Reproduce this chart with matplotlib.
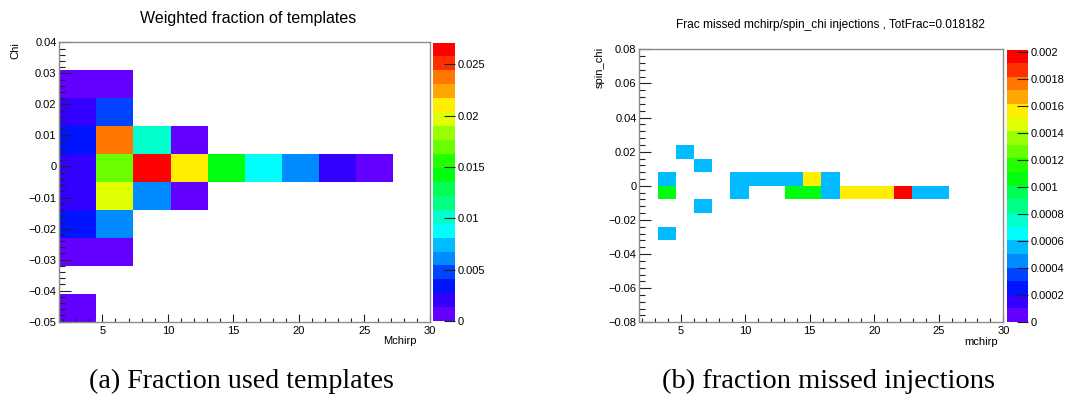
import colorsys
import numpy as np
import matplotlib
matplotlib.use("Agg")
import matplotlib.pyplot as plt
from matplotlib.colors import ListedColormap, BoundaryNorm
from matplotlib.ticker import MultipleLocator, FuncFormatter

plt.rcParams['font.family'] = ['Liberation Sans', 'DejaVu Sans']

# ---------------- data ----------------
# (a) weighted fraction of templates, one entry per filled (Mchirp, Chi) bin
tmpl_mchirp = [3, 3, 3, 3, 3, 3, 3, 3,
               6, 6, 6, 6, 6, 6, 6,
               9, 9, 9,
               12, 12, 12,
               14.5, 17, 20, 23, 26]
tmpl_chi = [0.0265, 0.0175, 0.0085, 0.0, -0.0095, -0.0185, -0.0275, -0.0455,
            0.0265, 0.0175, 0.0085, 0.0, -0.0095, -0.0185, -0.0275,
            0.0085, 0.0, -0.0095,
            0.0085, 0.0, -0.0095,
            0.0, 0.0, 0.0, 0.0, 0.0]
tmpl_frac = [0.0007, 0.0020, 0.0034, 0.0020, 0.0020, 0.0034, 0.0007, 0.0007,
             0.0007, 0.0047, 0.0237, 0.0169, 0.0197, 0.0061, 0.0007,
             0.0102, 0.0271, 0.0061,
             0.0007, 0.0210, 0.0007,
             0.0142, 0.0088, 0.0061, 0.0020, 0.0007]

# (b) fraction of missed injections per (mchirp, spin_chi) bin
miss_mchirp = [4.0, 4.0, 4.0, 5.3, 6.7, 6.7,
               9.5, 9.5, 11.0, 12.4, 13.8, 13.8, 15.2, 15.2, 16.6, 16.6,
               18.0, 19.4, 20.8, 22.2, 23.6, 25.0]
miss_chi = [0.004, -0.004, -0.028, 0.020, 0.012, -0.012,
            0.004, -0.004, 0.004, 0.004, 0.004, -0.004, 0.004, -0.004, 0.004, -0.004,
            -0.004, -0.004, -0.004, -0.004, -0.004, -0.004]
miss_frac = [0.00055, 0.00106, 0.00055, 0.00055, 0.00055, 0.00055,
             0.00055, 0.00055, 0.00055, 0.00055, 0.00055, 0.00106, 0.00157, 0.00106,
             0.00055, 0.00055,
             0.00157, 0.00157, 0.00157, 0.00202, 0.00055, 0.00055]
tot_frac = 0.018182

# axis ranges and binning of the two histograms
a_xrange, a_yrange, a_bins = (1.72, 30.0), (-0.05, 0.04), (10, 10)
b_xrange, b_yrange, b_bins = (1.8, 30.0), (-0.08, 0.08), (20, 20)

# ---------------- style ----------------
W, H = 1068, 394
NLEV = 20


def pretty_palette(n):
    """ROOT 'pretty' violet->red palette sampled at n contour levels."""
    cols = []
    for k in range(n):
        j = int((k + 0.99) * 50 / n)
        hue = max(280.0 - (j + 1) * 5.6, 0.0)
        cols.append(colorsys.hls_to_rgb(hue / 360.0, 0.5, 1.0))
    return ListedColormap(cols)


cmap = pretty_palette(NLEV)
frame_col = '#8a8a8a'
tick_col = '#222222'
fs = 8


def fig_rect(x0, y0, x1, y1):
    return [x0 / W, 1 - y1 / H, (x1 - x0) / W, (y1 - y0) / H]


def fmt(v, pos=None):
    s = '%g' % v
    if abs(v) < 1e-12:
        s = '0'
    return s.replace('-', '\u2212')


def draw_hist(ax, cax, xs, ys, ws, xr, yr, bins, ymaj, ymin, cticks):
    xedges = np.linspace(xr[0], xr[1], bins[0] + 1)
    yedges = np.linspace(yr[0], yr[1], bins[1] + 1)
    h, _, _ = np.histogram2d(xs, ys, bins=[xedges, yedges], weights=ws)
    h = np.ma.masked_where(h <= 0, h)
    zmax = h.max()
    norm = BoundaryNorm(np.linspace(0, zmax, NLEV + 1), NLEV, clip=True)
    mesh = ax.pcolormesh(xedges, yedges, h.T, cmap=cmap, norm=norm,
                         edgecolors='none', antialiased=False)
    ax.set_xlim(xr)
    ax.set_ylim(yr)
    for s in ax.spines.values():
        s.set_color(frame_col)
        s.set_linewidth(1.0)
    ax.xaxis.set_major_locator(MultipleLocator(5))
    ax.xaxis.set_minor_locator(MultipleLocator(1))
    ax.yaxis.set_major_locator(MultipleLocator(ymaj))
    ax.yaxis.set_minor_locator(MultipleLocator(ymin))
    ax.xaxis.set_major_formatter(FuncFormatter(fmt))
    ax.yaxis.set_major_formatter(FuncFormatter(fmt))
    ax.tick_params(axis='both', which='both', direction='in', colors=tick_col,
                   labelcolor='black', labelsize=fs, top=False, right=False, width=0.8)
    ax.tick_params(axis='y', which='major', length=8.5, pad=2)
    ax.tick_params(axis='y', which='minor', length=4.3)
    ax.tick_params(axis='x', which='major', length=5.5, pad=3)
    ax.tick_params(axis='x', which='minor', length=2.8)

    cb = ax.figure.colorbar(mesh, cax=cax, ticks=cticks)
    cb.outline.set_visible(False)
    cax.yaxis.set_ticks_position('right')
    cax.yaxis.set_major_formatter(FuncFormatter(fmt))
    cax.tick_params(direction='in', length=8, width=0.8, colors=tick_col,
                    labelcolor='black', labelsize=fs, pad=2)
    cax.minorticks_off()
    return mesh


fig = plt.figure(figsize=(W / 100, H / 100), dpi=100)

# (a) template fraction
ax_a = fig.add_axes(fig_rect(59.3, 42.3, 430, 321.7))
cax_a = fig.add_axes(fig_rect(432.7, 42.5, 455.3, 321.2))
draw_hist(ax_a, cax_a, tmpl_mchirp, tmpl_chi, tmpl_frac, a_xrange, a_yrange, a_bins,
          0.01, 0.002, [0, 0.005, 0.01, 0.015, 0.02, 0.025])
fig.text(248 / W, 1 - 18 / H, 'Weighted fraction of templates', ha='center', va='center',
         fontsize=11.5)
fig.text(15.5 / W, 1 - 42 / H, 'Chi', rotation=90, ha='center', va='top', fontsize=fs)
fig.text(417 / W, 1 - 341 / H, 'Mchirp', ha='right', va='center', fontsize=fs)

# (b) missed injections
ax_b = fig.add_axes(fig_rect(639.3, 49.3, 1003.3, 322.3))
cax_b = fig.add_axes(fig_rect(1006.7, 49.5, 1027.7, 322.0))
draw_hist(ax_b, cax_b, miss_mchirp, miss_chi, miss_frac, b_xrange, b_yrange, b_bins,
          0.02, 0.004, [0, 0.0002, 0.0004, 0.0006, 0.0008, 0.001, 0.0012, 0.0014,
                        0.0016, 0.0018, 0.002])
fig.text(830 / W, 1 - 25 / H,
         'Frac missed mchirp/spin_chi injections , TotFrac=%g' % tot_frac,
         ha='center', va='center', fontsize=8.6)
fig.text(600 / W, 1 - 47 / H, 'spin_chi', rotation=90, ha='center', va='top', fontsize=fs)
fig.text(998 / W, 1 - 342 / H, 'mchirp', ha='right', va='center', fontsize=fs)

# sub-figure captions
cap_font = ['Liberation Serif', 'DejaVu Serif']
fig.text(241 / W, 1 - 381 / H, '(a) Fraction used templates', ha='center', va='center',
         fontsize=20.2, family=cap_font)
fig.text(828 / W, 1 - 381 / H, '(b) fraction missed injections', ha='center', va='center',
         fontsize=20.5, family=cap_font)

fig.savefig('out.png', dpi=100)
